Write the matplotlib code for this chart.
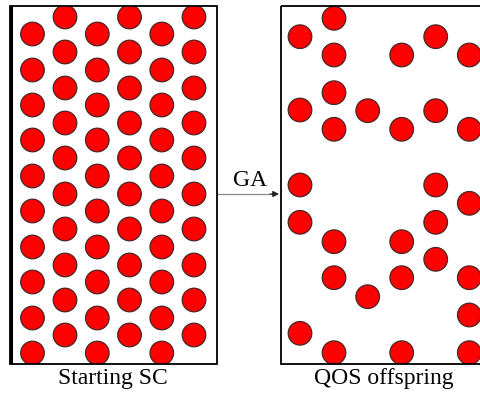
import matplotlib
matplotlib.use("Agg")
import matplotlib.pyplot as plt
from matplotlib.patches import Circle, Rectangle

# left panel: hexagonal packing, read per column
left_cols_x = [32.5, 65, 97.3, 129.5, 161.8, 194]
left_rows_a = [34, 70, 105, 140, 176, 211, 247, 282, 318, 353]   # columns 1, 3, 5
left_rows_b = [17, 52, 88, 123, 158, 194, 229, 265, 300, 335]   # columns 2, 4, 6

# right panel: surviving sites after GA
right_x = [300, 334, 334, 401.7, 435.7, 469.3,
           300, 334, 334, 367.7, 401.7, 435.7, 469.3,
           300, 435.7, 469.3, 300, 435.7,
           334, 401.7, 435.7, 334, 401.7, 469.3,
           367.7, 469.3, 300, 334, 401.7, 469.3]
right_y = [36.7, 18.3, 55, 55, 36.7, 55,
           110, 92.7, 129.3, 110.7, 129.3, 110.7, 129.3,
           185, 185, 203.3, 222.3, 222.3,
           241.7, 241.7, 259.3, 277.7, 277.7, 277.7,
           296.7, 315, 333.3, 352.7, 352.7, 352.7]

labels = ["Starting SC", "QOS offspring"]
arrow_label = "GA"

fig = plt.figure(figsize=(4.8, 3.93), dpi=100)
ax = fig.add_axes([0, 0, 1, 1])
ax.set_xlim(0, 480)
ax.set_ylim(393, 0)
ax.axis("off")

face = "#ff0000"
edge = "#4a2626"
r = 11.8

# frames
left_box = Rectangle((10, 6), 206.5, 358, fill=False, lw=1.3, ec="black", zorder=3)
right_box = Rectangle((281, 6), 220, 358, fill=False, lw=1.3, ec="black", zorder=3)
ax.add_patch(left_box)
ax.add_patch(right_box)
ax.plot([10.5, 10.5], [6, 364], color="black", lw=2.2, zorder=4, solid_capstyle="butt")

clip_left = Rectangle((10, 6), 206.5, 358, transform=ax.transData)
clip_right = Rectangle((281, 6), 220, 358, transform=ax.transData)

for i, x in enumerate(left_cols_x):
    rows = left_rows_a if i % 2 == 0 else left_rows_b
    for y in rows:
        c = Circle((x, y), r, fc=face, ec=edge, lw=0.9, zorder=2)
        ax.add_patch(c)
        c.set_clip_path(clip_left)

for x, y in zip(right_x, right_y):
    c = Circle((x, y), r, fc=face, ec=edge, lw=0.9, zorder=2)
    ax.add_patch(c)
    c.set_clip_path(clip_right)

# arrow between panels
ax.plot([216.5, 272], [194, 194], color="#8a8a8a", lw=0.9, zorder=1)
ax.annotate("", xy=(279, 194), xytext=(270, 194),
            arrowprops=dict(arrowstyle="-|>", color="#222222", lw=0.8,
                            mutation_scale=9, shrinkA=0, shrinkB=0))
ax.text(250, 186, arrow_label, ha="center", va="baseline",
        family="Liberation Serif", fontsize=17)

ax.text(113, 384, labels[0], ha="center", va="baseline",
        family="Liberation Serif", fontsize=17)
ax.text(384, 384, labels[1], ha="center", va="baseline",
        family="Liberation Serif", fontsize=17)

fig.savefig("out.png", dpi=100, facecolor="white")
